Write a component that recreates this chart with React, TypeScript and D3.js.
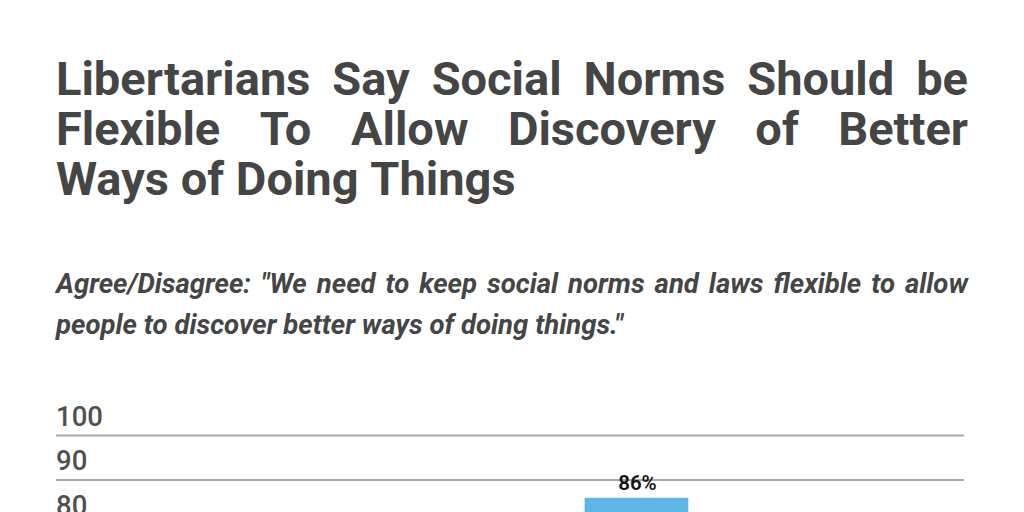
import React, { useEffect, useRef } from 'react';
import * as d3 from 'd3';

const titleLines = [
  'Libertarians Say Social Norms Should be',
  'Flexible To Allow Discovery of Better',
  'Ways of Doing Things',
];

const subtitleLines = [
  'Agree/Disagree: "We need to keep social norms and laws flexible to allow',
  'people to discover better ways of doing things."',
];

// only the Libertarians bar reaches into the visible part of the chart
const categories = ['All', 'Democrats', 'Independents', 'Republicans', 'Libertarians', 'Liberals', 'Conservatives'];
const values = [68, 70, 66, 64, 86, 72, 62];
const yTicks = [0, 10, 20, 30, 40, 50, 60, 70, 80, 90, 100];

const W = 1024;
const H = 512;

const App: React.FC = () => {
  const ref = useRef<SVGSVGElement>(null);

  useEffect(() => {
    if (!ref.current) return;
    const svg = d3.select(ref.current);
    svg.selectAll('*').remove();

    const left = 56;
    const right = 968;

    // write a line word by word, spreading the gaps so it fills left..right
    const justifyLine = (
      line: string,
      y: number,
      style: { size: number; weight: number; italic?: boolean },
      justify: boolean
    ) => {
      const g = svg.append('g');
      const words = line.split(' ');
      const nodes = words.map((w) =>
        g
          .append('text')
          .attr('y', y)
          .style('font-family', 'Roboto, sans-serif')
          .style('font-size', `${style.size}px`)
          .style('font-weight', style.weight)
          .style('font-style', style.italic ? 'italic' : 'normal')
          .attr('fill', '#454545')
          .text(w)
      );
      const widths = nodes.map((n) => (n.node() as SVGTextElement).getComputedTextLength());
      const total = d3.sum(widths);
      const space = style.size * 0.25;
      const gap = justify && words.length > 1 ? (right - left - total) / (words.length - 1) : space;
      let x = left;
      nodes.forEach((n, i) => {
        n.attr('x', x);
        x += widths[i] + gap;
      });
    };

    titleLines.forEach((line, i) => {
      justifyLine(line, 95 + i * 50, { size: 47, weight: 700 }, i < titleLines.length - 1);
    });

    subtitleLines.forEach((line, i) => {
      justifyLine(line, 293 + i * 41, { size: 27.5, weight: 700, italic: true }, i < subtitleLines.length - 1);
    });

    // chart
    const plotLeft = 56;
    const plotRight = 964;
    const yTop = 435.5;
    const plotHeight = 445;

    const x = d3.scaleBand<string>().domain(categories).range([plotLeft, plotRight]).padding(0.18);
    const y = d3.scaleLinear().domain([0, 100]).range([yTop + plotHeight, yTop]);

    // texts that would land wholly below the picture are not drawn
    const onCanvas = (yy: number) => yy - 22 < H;

    const grid = svg.append('g');
    grid
      .selectAll('line')
      .data(yTicks)
      .enter()
      .append('line')
      .attr('x1', plotLeft)
      .attr('x2', plotRight)
      .attr('y1', (d) => y(d))
      .attr('y2', (d) => y(d))
      .attr('stroke', '#a9a9a9')
      .attr('stroke-width', 2);

    grid
      .selectAll('text')
      .data(yTicks.filter((d) => onCanvas(y(d) - 10)))
      .enter()
      .append('text')
      .attr('x', plotLeft)
      .attr('y', (d) => y(d) - 10)
      .style('font-family', 'Roboto, sans-serif')
      .style('font-size', '27.5px')
      .style('font-weight', 500)
      .attr('fill', '#505050')
      .text((d) => d);

    const bars = svg.append('g');
    bars
      .selectAll('rect')
      .data(values)
      .enter()
      .append('rect')
      .attr('x', (_d, i) => x(categories[i]) ?? 0)
      .attr('y', (d) => y(d))
      .attr('width', x.bandwidth())
      .attr('height', (d) => y(0) - y(d))
      .attr('fill', '#5eb6e4');

    const labelled = values.map((v, i) => ({ v, c: categories[i] })).filter((d) => onCanvas(y(d.v) - 8));
    bars
      .selectAll('text')
      .data(labelled)
      .enter()
      .append('text')
      .attr('x', (d) => (x(d.c) ?? 0) + x.bandwidth() / 2 + 1)
      .attr('y', (d) => y(d.v) - 8)
      .attr('text-anchor', 'middle')
      .style('font-family', 'Roboto, sans-serif')
      .style('font-size', '20.5px')
      .style('font-weight', 600)
      .attr('fill', '#111')
      .text((d) => `${d.v}%`);
  }, []);

  return (
    <svg
      ref={ref}
      width={W}
      height={H}
      style={{ position: 'absolute', top: 0, left: 0, background: '#fff', overflow: 'hidden' }}
    />
  );
};

export default App;
